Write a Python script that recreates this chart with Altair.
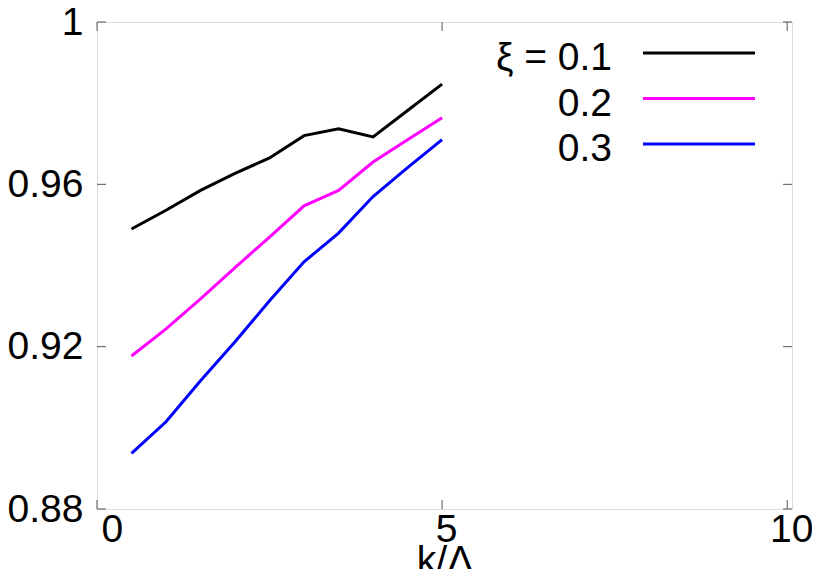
import altair as alt
import pandas as pd

# ---- data ----
k_over_lambda = [0.5, 1.0, 1.5, 2.0, 2.5, 3.0, 3.5, 4.0, 4.5, 5.0]
xi_01 = [0.9490, 0.9536, 0.9585, 0.9627, 0.9665, 0.9720, 0.9737, 0.9717, 0.9782, 0.9847]
xi_02 = [0.9177, 0.9244, 0.9318, 0.9395, 0.9470, 0.9547, 0.9585, 0.9655, 0.9710, 0.9764]
xi_03 = [0.8937, 0.9015, 0.9116, 0.9212, 0.9313, 0.9409, 0.9480, 0.9570, 0.9641, 0.9710]

series_names = ["0.1", "0.2", "0.3"]
legend_labels = ["ξ = 0.1", "0.2", "0.3"]
series_colors = ["#000000", "#ff00ff", "#0000ff"]

x_ticks = [0, 5, 10]
y_ticks = [0.88, 0.92, 0.96, 1.0]

FONT = "Liberation Sans"
FS = 39
W, H = 695, 487

rows = []
for name, vals in zip(series_names, [xi_01, xi_02, xi_03]):
    for xv, yv in zip(k_over_lambda, vals):
        rows.append({"k": xv, "v": yv, "xi": name})
df = pd.DataFrame(rows)

xscale = alt.Scale(domain=[0, 10.07], nice=False, zero=False)
yscale = alt.Scale(domain=[0.88, 1.0], nice=False, zero=False)

lines = alt.Chart(df).mark_line(strokeWidth=3).encode(
    x=alt.X("k:Q", scale=xscale,
            axis=alt.Axis(values=x_ticks, format="d", title="k/Λ", ticks=False,
                          domain=False, grid=False, labelFontSize=FS, labelFont=FONT,
                          labelPadding=1, labelOffset=4, labelColor="black",
                          titleFontSize=FS, titleFont=FONT, titleFontWeight="normal",
                          titleBaseline="alphabetic", titleY=63, titleColor="black")),
    y=alt.Y("v:Q", scale=yscale,
            axis=alt.Axis(values=y_ticks, format="~g", title=None, ticks=False,
                          domain=False, grid=False, labelFontSize=FS, labelFont=FONT,
                          labelPadding=14, labelColor="black")),
    color=alt.Color("xi:N", scale=alt.Scale(domain=series_names, range=series_colors),
                    legend=None),
    detail="xi:N",
)

# inward ticks on all four sides (mirrored like gnuplot)
xt = pd.DataFrame({"t": x_ticks})
yt = pd.DataFrame({"t": y_ticks})
tick_color = "#555555"
tb = alt.Chart(xt).mark_rule(color=tick_color, strokeWidth=1).encode(
    x=alt.X("t:Q", scale=xscale), y=alt.value(H), y2=alt.value(H - 9))
tt = alt.Chart(xt).mark_rule(color=tick_color, strokeWidth=1).encode(
    x=alt.X("t:Q", scale=xscale), y=alt.value(0), y2=alt.value(9))
tl = alt.Chart(yt).mark_rule(color=tick_color, strokeWidth=1).encode(
    y=alt.Y("t:Q", scale=yscale), x=alt.value(0), x2=alt.value(9))
tr = alt.Chart(yt).mark_rule(color=tick_color, strokeWidth=1).encode(
    y=alt.Y("t:Q", scale=yscale), x=alt.value(W), x2=alt.value(W - 9))

# manual legend (text right-aligned, sample line to the right)
legend_layers = []
for i, (lab, col) in enumerate(zip(legend_labels, series_colors)):
    ld = pd.DataFrame({"label": [lab]})
    base_y = 48 + i * 45.5
    legend_layers.append(
        alt.Chart(ld).mark_text(align="right", baseline="alphabetic", fontSize=FS,
                                font=FONT, color="black").encode(
            text="label:N", x=alt.value(515), y=alt.value(base_y))
    )
    legend_layers.append(
        alt.Chart(ld).mark_rule(color=col, strokeWidth=3).encode(
            x=alt.value(546), x2=alt.value(658), y=alt.value(base_y - 17))
    )

chart = alt.layer(lines, tb, tt, tl, tr, *legend_layers).properties(
    width=W, height=H,
    autosize=alt.AutoSizeParams(type="none"),
    padding={"left": 89, "top": 14, "right": 20, "bottom": 60},
).configure_view(stroke="#333333", strokeWidth=1.5).configure(background="white")

chart.save("out.html", embed_options={"renderer": "svg", "actions": False})
